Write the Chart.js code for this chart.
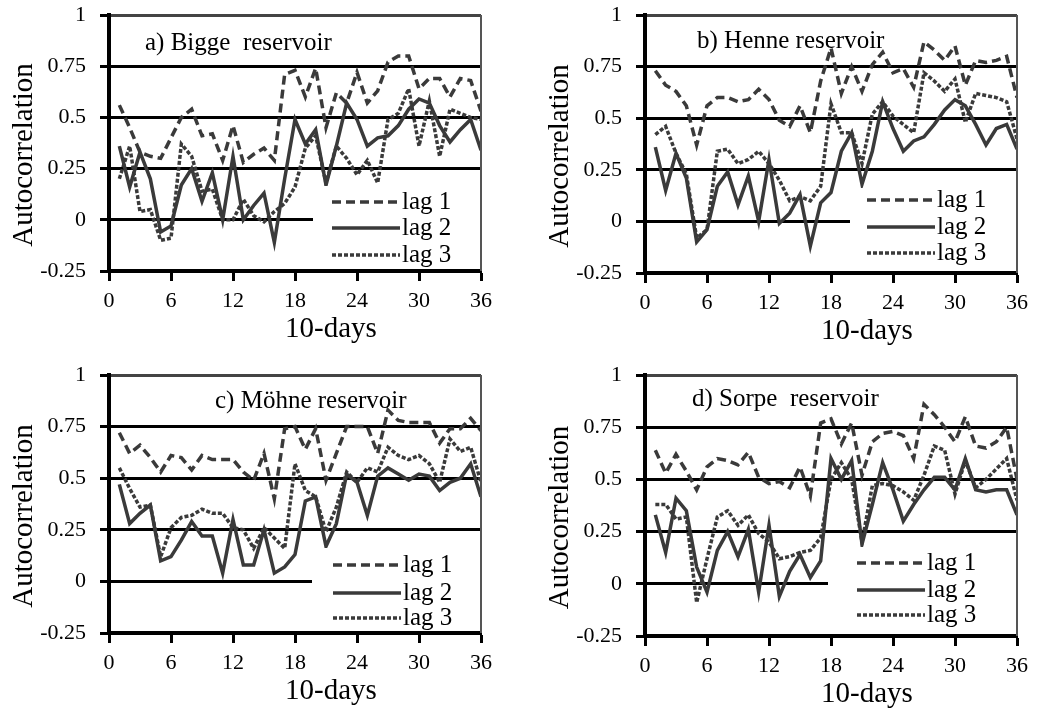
<!DOCTYPE html>
<html>
<head>
<meta charset="utf-8">
<script src="https://cdn.jsdelivr.net/npm/chart.js@4.4.0/dist/chart.umd.min.js"></script>
<style>
  body { margin: 0; background: #fff; width: 1037px; height: 708px; position: relative; overflow: hidden; }
  canvas { position: absolute; }
</style>
</head>
<body>
<canvas id="cA" style="left:0;top:0"></canvas>
<canvas id="cB" style="left:536px;top:0"></canvas>
<canvas id="cC" style="left:0;top:354px"></canvas>
<canvas id="cD" style="left:536px;top:354px"></canvas>
<script>
// x positions (10-day periods) and axis ticks
const days = [1,2,3,4,5,6,7,8,9,10,11,12,13,14,15,16,17,18,19,20,21,22,23,24,25,26,27,28,29,30,31,32,33,34,35,36];
const xTicks = [0, 6, 12, 18, 24, 30, 36];
const yTicks = [-0.25, 0, 0.25, 0.5, 0.75, 1];
const yTickLabels = ['-0.25', '0', '0.25', '0.5', '0.75', '1'];
const seriesNames = ['lag 1', 'lag 2', 'lag 3'];
const panelTitles = ['a) Bigge  reservoir', 'b) Henne reservoir', 'c) Möhne reservoir', 'd) Sorpe  reservoir'];

// a) Bigge
const biggeLag1 = [0.56,0.45,0.33,0.31,0.30,0.40,0.50,0.54,0.41,0.42,0.29,0.46,0.28,0.32,0.35,0.29,0.71,0.73,0.60,0.74,0.45,0.62,0.57,0.72,0.57,0.63,0.77,0.80,0.80,0.64,0.69,0.69,0.60,0.69,0.68,0.53];
const biggeLag2 = [0.36,0.16,0.33,0.20,-0.06,-0.03,0.17,0.25,0.09,0.23,0.00,0.31,0.00,0.07,0.13,-0.11,0.20,0.49,0.37,0.44,0.17,0.36,0.57,0.49,0.36,0.40,0.41,0.46,0.54,0.59,0.57,0.46,0.38,0.44,0.49,0.34];
const biggeLag3 = [0.20,0.36,0.04,0.05,-0.10,-0.09,0.37,0.31,0.14,0.15,0.00,0.00,0.10,0.02,-0.01,0.04,0.08,0.16,0.35,0.41,0.18,0.36,0.30,0.22,0.29,0.18,0.49,0.52,0.64,0.36,0.58,0.31,0.54,0.52,0.50,0.49];
// b) Henne
const henneLag1 = [0.73,0.66,0.63,0.56,0.37,0.56,0.60,0.60,0.58,0.59,0.64,0.59,0.49,0.46,0.56,0.43,0.68,0.84,0.62,0.75,0.63,0.76,0.82,0.72,0.74,0.65,0.87,0.83,0.78,0.85,0.66,0.78,0.77,0.78,0.80,0.60];
const henneLag2 = [0.36,0.15,0.33,0.21,-0.10,-0.04,0.17,0.24,0.08,0.22,0.00,0.30,-0.01,0.04,0.13,-0.12,0.09,0.14,0.34,0.43,0.18,0.34,0.58,0.45,0.34,0.39,0.41,0.47,0.54,0.59,0.56,0.47,0.37,0.45,0.47,0.35];
const henneLag3 = [0.42,0.46,0.33,0.23,-0.08,-0.04,0.34,0.35,0.28,0.30,0.34,0.28,0.20,0.10,0.12,0.10,0.17,0.57,0.43,0.43,0.28,0.52,0.58,0.51,0.47,0.43,0.72,0.68,0.63,0.69,0.48,0.62,0.61,0.60,0.58,0.40];
// c) Möhne
const moehneLag1 = [0.72,0.62,0.66,0.60,0.53,0.61,0.60,0.54,0.61,0.59,0.59,0.59,0.53,0.49,0.62,0.40,0.74,0.75,0.64,0.74,0.49,0.62,0.75,0.75,0.75,0.62,0.83,0.78,0.77,0.77,0.77,0.67,0.74,0.74,0.79,0.73];
const moehneLag2 = [0.47,0.28,0.33,0.37,0.10,0.12,0.20,0.29,0.22,0.22,0.04,0.30,0.08,0.08,0.25,0.04,0.07,0.13,0.39,0.41,0.17,0.28,0.52,0.48,0.32,0.51,0.55,0.52,0.49,0.52,0.51,0.44,0.48,0.50,0.57,0.41];
const moehneLag3 = [0.55,0.45,0.36,0.37,0.12,0.26,0.31,0.32,0.35,0.33,0.33,0.26,0.25,0.16,0.26,0.21,0.16,0.57,0.44,0.41,0.24,0.36,0.53,0.48,0.55,0.53,0.65,0.61,0.59,0.61,0.57,0.48,0.69,0.63,0.65,0.48];
// d) Sorpe
const sorpeLag1 = [0.64,0.53,0.62,0.54,0.45,0.56,0.60,0.59,0.57,0.63,0.51,0.48,0.49,0.46,0.56,0.42,0.77,0.79,0.67,0.77,0.52,0.68,0.72,0.73,0.71,0.60,0.86,0.81,0.75,0.68,0.80,0.66,0.65,0.68,0.75,0.50];
const sorpeLag2 = [0.33,0.15,0.41,0.35,0.08,-0.04,0.16,0.25,0.13,0.26,-0.04,0.28,-0.06,0.06,0.14,0.03,0.11,0.60,0.50,0.59,0.19,0.38,0.58,0.45,0.30,0.38,0.45,0.51,0.51,0.45,0.60,0.45,0.44,0.45,0.45,0.33];
const sorpeLag3 = [0.38,0.38,0.31,0.32,-0.09,0.12,0.32,0.35,0.28,0.33,0.24,0.20,0.12,0.13,0.15,0.16,0.22,0.50,0.58,0.50,0.20,0.47,0.48,0.47,0.44,0.40,0.52,0.66,0.64,0.43,0.59,0.46,0.50,0.55,0.60,0.40];

const dashes = [[9, 5], [], [4, 2]];
const lineColor = '#3a3a3a';
const serif = '"Liberation Serif", "Times New Roman", serif';

Chart.defaults.font.family = serif;
Chart.defaults.color = '#000';

// legend box, panel name, axis titles, frame lines
const panelDeco = {
  id: 'panelDeco',
  afterDatasetsDraw(chart, args, o) {
    const { ctx, chartArea: a } = chart;
    ctx.save();
    ctx.fillStyle = '#fff';
    ctx.fillRect(a.left + o.boxLeft, a.top + o.boxTop, a.right - a.left - o.boxLeft, a.bottom - 2 - a.top - o.boxTop);

    // thin right frame, heavy left axis
    ctx.strokeStyle = '#555';
    ctx.lineWidth = 2;
    ctx.beginPath();
    ctx.moveTo(a.right, a.top);
    ctx.lineTo(a.right, a.bottom);
    ctx.stroke();
    ctx.strokeStyle = '#000';
    ctx.lineWidth = 4;
    ctx.beginPath();
    ctx.moveTo(a.left, a.top - 1);
    ctx.lineTo(a.left, a.bottom + 1);
    ctx.stroke();

    ctx.font = '25px ' + serif;
    ctx.textBaseline = 'middle';
    chart.data.datasets.forEach((ds, i) => {
      const y = a.top + o.rows[i];
      const x0 = a.left + o.lineX;
      ctx.strokeStyle = ds.borderColor;
      ctx.lineWidth = ds.borderWidth;
      ctx.setLineDash(ds.borderDash);
      ctx.beginPath();
      ctx.moveTo(x0, y);
      ctx.lineTo(x0 + 68, y);
      ctx.stroke();
      ctx.setLineDash([]);
      ctx.fillStyle = '#000';
      ctx.fillText(ds.label, x0 + 70, y);
    });

    ctx.fillText(o.title, a.left + o.titleX, a.top + o.titleY);
    ctx.restore();
  },
  afterDraw(chart, args, o) {
    const { ctx, chartArea: a } = chart;
    ctx.save();
    ctx.fillStyle = '#000';
    ctx.font = '29px ' + serif;
    ctx.textAlign = 'center';
    ctx.textBaseline = 'alphabetic';
    ctx.fillText('10-days', a.left + 222, a.bottom + 66);
    ctx.translate(a.left - 77, (a.top + a.bottom) / 2 + 12);
    ctx.rotate(-Math.PI / 2);
    ctx.fillText('Autocorrelation', 0, 0);
    ctx.restore();
  }
};

function makePanel(id, W, H, area, series, deco) {
  const cv = document.getElementById(id);
  cv.width = W;
  cv.height = H;
  cv.style.width = W + 'px';
  cv.style.height = H + 'px';
  return new Chart(cv, {
    type: 'line',
    data: {
      datasets: series.map((vals, i) => ({
        label: seriesNames[i],
        data: days.map((d, j) => ({ x: d, y: vals[j] })),
        borderColor: lineColor,
        borderWidth: 3.5,
        borderDash: dashes[i],
        pointRadius: 0,
        tension: 0,
        fill: false
      }))
    },
    options: {
      responsive: false,
      animation: false,
      events: [],
      layout: { padding: { top: area.top, right: W - area.right, left: 0, bottom: 0 } },
      plugins: {
        legend: { display: false },
        tooltip: { enabled: false },
        panelDeco: deco
      },
      scales: {
        x: {
          type: 'linear',
          min: 0,
          max: 36,
          afterFit: s => { s.height = H - area.bottom; s.paddingLeft = 0; s.paddingRight = 0; },
          afterBuildTicks: s => { s.ticks = xTicks.map(v => ({ value: v })); },
          grid: { drawOnChartArea: false, drawTicks: true, tickLength: 10, tickWidth: 3, tickColor: '#000' },
          border: { color: '#000', width: 4 },
          ticks: { font: { size: 22 }, color: '#000', padding: 7, maxRotation: 0, autoSkip: false }
        },
        y: {
          type: 'linear',
          min: -0.25,
          max: 1,
          afterFit: s => { s.width = area.left; s.paddingTop = 0; s.paddingBottom = 0; },
          afterBuildTicks: s => { s.ticks = yTicks.map(v => ({ value: v })); },
          grid: {
            color: c => (c.tick && c.tick.value === 1 ? '#444' : '#000'),
            lineWidth: 3,
            tickLength: 9,
            tickColor: '#000'
          },
          border: { color: '#000', width: 4 },
          ticks: { font: { size: 22 }, color: '#000', padding: 14, callback: (v, i) => yTickLabels[i] }
        }
      }
    },
    plugins: [panelDeco]
  });
}

makePanel('cA', 518, 354, { left: 109, right: 481, top: 15, bottom: 271 },
  [biggeLag1, biggeLag2, biggeLag3],
  { title: panelTitles[0], titleX: 36, titleY: 28, boxLeft: 204, boxTop: 171, lineX: 223, rows: [187, 213, 240] });
makePanel('cB', 501, 354, { left: 109, right: 481, top: 15, bottom: 273 },
  [henneLag1, henneLag2, henneLag3],
  { title: panelTitles[1], titleX: 52, titleY: 26, boxLeft: 205, boxTop: 173, lineX: 222, rows: [185, 212, 238] });
makePanel('cC', 518, 354, { left: 109, right: 481, top: 21, bottom: 279 },
  [moehneLag1, moehneLag2, moehneLag3],
  { title: panelTitles[2], titleX: 106, titleY: 26, boxLeft: 203, boxTop: 173, lineX: 224, rows: [190, 218, 243] });
makePanel('cD', 501, 354, { left: 109, right: 481, top: 21, bottom: 282 },
  [sorpeLag1, sorpeLag2, sorpeLag3],
  { title: panelTitles[3], titleX: 47, titleY: 24, boxLeft: 183, boxTop: 172, lineX: 212, rows: [188, 215, 240] });
</script>
</body>
</html>
